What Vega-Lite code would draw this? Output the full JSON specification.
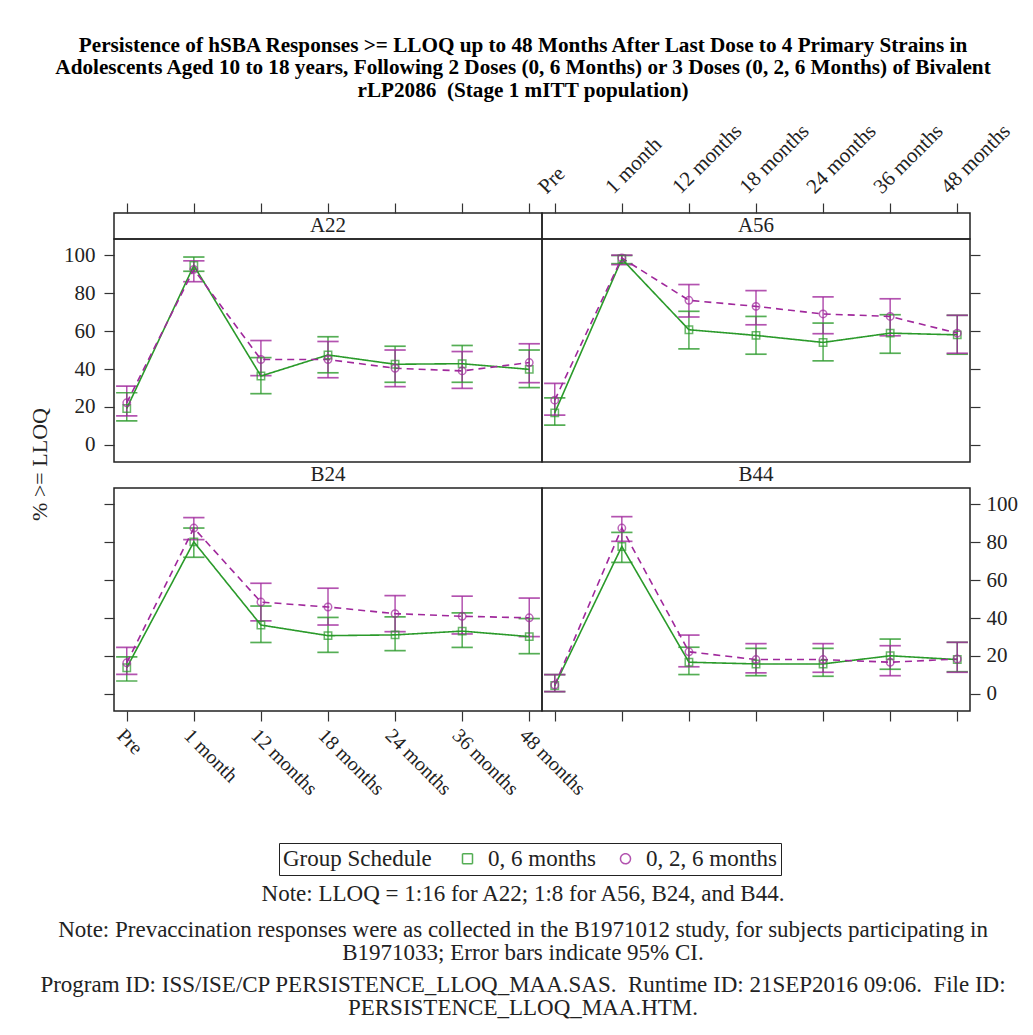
{
  "$schema": "https://vega.github.io/schema/vega-lite/v6.json",
  "padding": {"left": 27, "top": 34, "right": 10, "bottom": 5},
  "background": "white",
  "title": {
    "text": ["Persistence of hSBA Responses >= LLOQ up to 48 Months After Last Dose to 4 Primary Strains in", "Adolescents Aged 10 to 18 years, Following 2 Doses (0, 6 Months) or 3 Doses (0, 2, 6 Months) of Bivalent", "rLP2086 \u00a0(Stage 1 mITT population)"],
    "font": "Liberation Serif", "fontSize": 21.2, "fontWeight": "bold", "lineHeight": 22.5,
    "anchor": "middle", "offset": 18, "color": "black"
  },
  "config": {
    "font": "Liberation Serif",
    "view": {"stroke": "#222", "strokeWidth": 1.5},
    "axis": {"labelFont": "Liberation Serif", "titleFont": "Liberation Serif", "labelColor": "#222", "titleColor": "#222", "tickColor": "#333", "tickSize": 10, "tickWidth": 1.2, "domain": false, "grid": false, "labelPadding": 5, "titleFontWeight": "normal", "labelFontSize": 21},
    "legend": {"direction": "horizontal", "titleOrient": "left", "strokeColor": "#222", "padding": 4, "titleFont": "Liberation Serif", "titleFontSize": 23, "titleFontWeight": "normal", "titleColor": "#222", "labelFont": "Liberation Serif", "labelFontSize": 23, "labelColor": "#222", "symbolSize": 100, "symbolStrokeWidth": 1.5, "symbolDash": [1, 0], "titlePadding": 24, "columnPadding": 18, "labelOffset": 9}
  },
  "datasets": {
    "s": [{"strain": "A22"}, {"strain": "A56"}, {"strain": "B24"}, {"strain": "B44"}],
    "d": [
      {"strain": "A22", "group": "0, 6 months", "time": "Pre", "pct": 19.2, "lo": 12.7, "hi": 27.5},
      {"strain": "A22", "group": "0, 6 months", "time": "1 month", "pct": 94.5, "lo": 91.5, "hi": 99},
      {"strain": "A22", "group": "0, 6 months", "time": "12 months", "pct": 36.3, "lo": 27, "hi": 46},
      {"strain": "A22", "group": "0, 6 months", "time": "18 months", "pct": 47.4, "lo": 38, "hi": 57},
      {"strain": "A22", "group": "0, 6 months", "time": "24 months", "pct": 42.5, "lo": 33, "hi": 52},
      {"strain": "A22", "group": "0, 6 months", "time": "36 months", "pct": 42.8, "lo": 33, "hi": 52.4},
      {"strain": "A22", "group": "0, 6 months", "time": "48 months", "pct": 39.8, "lo": 30.2, "hi": 50},
      {"strain": "A22", "group": "0, 2, 6 months", "time": "Pre", "pct": 22.2, "lo": 15.3, "hi": 31},
      {"strain": "A22", "group": "0, 2, 6 months", "time": "1 month", "pct": 92.5, "lo": 86, "hi": 97},
      {"strain": "A22", "group": "0, 2, 6 months", "time": "12 months", "pct": 45, "lo": 36.5, "hi": 55},
      {"strain": "A22", "group": "0, 2, 6 months", "time": "18 months", "pct": 45, "lo": 35.4, "hi": 54.5},
      {"strain": "A22", "group": "0, 2, 6 months", "time": "24 months", "pct": 40.4, "lo": 30.7, "hi": 50},
      {"strain": "A22", "group": "0, 2, 6 months", "time": "36 months", "pct": 39, "lo": 29.8, "hi": 49.2},
      {"strain": "A22", "group": "0, 2, 6 months", "time": "48 months", "pct": 43.4, "lo": 32.8, "hi": 53.3},
      {"strain": "A56", "group": "0, 6 months", "time": "Pre", "pct": 16.9, "lo": 10.4, "hi": 24.8},
      {"strain": "A56", "group": "0, 6 months", "time": "1 month", "pct": 98, "lo": 95.5, "hi": 99.8},
      {"strain": "A56", "group": "0, 6 months", "time": "12 months", "pct": 60.7, "lo": 50.6, "hi": 70.4},
      {"strain": "A56", "group": "0, 6 months", "time": "18 months", "pct": 57.7, "lo": 47.8, "hi": 67.7},
      {"strain": "A56", "group": "0, 6 months", "time": "24 months", "pct": 54, "lo": 44.3, "hi": 64.2},
      {"strain": "A56", "group": "0, 6 months", "time": "36 months", "pct": 58.9, "lo": 48.3, "hi": 68.6},
      {"strain": "A56", "group": "0, 6 months", "time": "48 months", "pct": 58, "lo": 47.8, "hi": 68.3},
      {"strain": "A56", "group": "0, 2, 6 months", "time": "Pre", "pct": 23.6, "lo": 15.7, "hi": 32.4},
      {"strain": "A56", "group": "0, 2, 6 months", "time": "1 month", "pct": 98.5, "lo": 95, "hi": 100},
      {"strain": "A56", "group": "0, 2, 6 months", "time": "12 months", "pct": 76.2, "lo": 67.4, "hi": 84.5},
      {"strain": "A56", "group": "0, 2, 6 months", "time": "18 months", "pct": 73, "lo": 63.3, "hi": 81.3},
      {"strain": "A56", "group": "0, 2, 6 months", "time": "24 months", "pct": 69, "lo": 58.6, "hi": 78},
      {"strain": "A56", "group": "0, 2, 6 months", "time": "36 months", "pct": 67.7, "lo": 57.5, "hi": 77},
      {"strain": "A56", "group": "0, 2, 6 months", "time": "48 months", "pct": 58.9, "lo": 48.3, "hi": 68.3},
      {"strain": "B24", "group": "0, 6 months", "time": "Pre", "pct": 13.8, "lo": 6.8, "hi": 19.5},
      {"strain": "B24", "group": "0, 6 months", "time": "1 month", "pct": 80.1, "lo": 72, "hi": 87.4},
      {"strain": "B24", "group": "0, 6 months", "time": "12 months", "pct": 36.3, "lo": 27.1, "hi": 46.3},
      {"strain": "B24", "group": "0, 6 months", "time": "18 months", "pct": 30.7, "lo": 21.9, "hi": 40.3},
      {"strain": "B24", "group": "0, 6 months", "time": "24 months", "pct": 31.1, "lo": 22.8, "hi": 40.6},
      {"strain": "B24", "group": "0, 6 months", "time": "36 months", "pct": 33.1, "lo": 24.5, "hi": 42.7},
      {"strain": "B24", "group": "0, 6 months", "time": "48 months", "pct": 30.2, "lo": 21.2, "hi": 39.7},
      {"strain": "B24", "group": "0, 2, 6 months", "time": "Pre", "pct": 16.4, "lo": 10.3, "hi": 24.5},
      {"strain": "B24", "group": "0, 2, 6 months", "time": "1 month", "pct": 87.4, "lo": 81.3, "hi": 92.9},
      {"strain": "B24", "group": "0, 2, 6 months", "time": "12 months", "pct": 48.4, "lo": 38.5, "hi": 58.3},
      {"strain": "B24", "group": "0, 2, 6 months", "time": "18 months", "pct": 45.8, "lo": 36.3, "hi": 55.7},
      {"strain": "B24", "group": "0, 2, 6 months", "time": "24 months", "pct": 42.3, "lo": 32.8, "hi": 51.8},
      {"strain": "B24", "group": "0, 2, 6 months", "time": "36 months", "pct": 40.9, "lo": 31.6, "hi": 51.5},
      {"strain": "B24", "group": "0, 2, 6 months", "time": "48 months", "pct": 40.1, "lo": 30.2, "hi": 50.5},
      {"strain": "B44", "group": "0, 6 months", "time": "Pre", "pct": 4.4, "lo": 1.2, "hi": 10.2},
      {"strain": "B44", "group": "0, 6 months", "time": "1 month", "pct": 77.7, "lo": 69.3, "hi": 85.1},
      {"strain": "B44", "group": "0, 6 months", "time": "12 months", "pct": 16.7, "lo": 10.2, "hi": 24.6},
      {"strain": "B44", "group": "0, 6 months", "time": "18 months", "pct": 15.8, "lo": 9.6, "hi": 24},
      {"strain": "B44", "group": "0, 6 months", "time": "24 months", "pct": 15.8, "lo": 9.3, "hi": 24},
      {"strain": "B44", "group": "0, 6 months", "time": "36 months", "pct": 20.1, "lo": 13, "hi": 28.9},
      {"strain": "B44", "group": "0, 6 months", "time": "48 months", "pct": 18.1, "lo": 11.7, "hi": 27.2},
      {"strain": "B44", "group": "0, 2, 6 months", "time": "Pre", "pct": 4.7, "lo": 1.2, "hi": 10.2},
      {"strain": "B44", "group": "0, 2, 6 months", "time": "1 month", "pct": 87.4, "lo": 80.4, "hi": 93.4},
      {"strain": "B44", "group": "0, 2, 6 months", "time": "12 months", "pct": 22.2, "lo": 14.3, "hi": 31},
      {"strain": "B44", "group": "0, 2, 6 months", "time": "18 months", "pct": 18.1, "lo": 11.1, "hi": 26.5},
      {"strain": "B44", "group": "0, 2, 6 months", "time": "24 months", "pct": 18.1, "lo": 11.4, "hi": 26.5},
      {"strain": "B44", "group": "0, 2, 6 months", "time": "36 months", "pct": 16.7, "lo": 9.6, "hi": 25.4},
      {"strain": "B44", "group": "0, 2, 6 months", "time": "48 months", "pct": 18.4, "lo": 11.4, "hi": 27.2}
    ]
  },
  "resolve": {"scale": {"color": "independent", "shape": "independent"}},
  "spacing": 6,
  "vconcat": [
    {
      "columns": 2, "spacing": 0, "bounds": "flush", "align": "each",
      "concat": [
        {
          "width": 428, "height": 26,
          "layer": [
            {"data": {"name": "d"}, "transform": [{"filter": "datum.strain === 'A22'"}], "mark": {"type": "point", "opacity": 0},
             "encoding": {"x": {"field": "time", "type": "ordinal", "scale": {"type": "point", "domain": ["Pre", "1 month", "12 months", "18 months", "24 months", "36 months", "48 months"], "padding": 0.19}, "axis": {"orient": "top", "labels": false, "title": null}}}},
            {"data": {"name": "s"}, "transform": [{"filter": "datum.strain === 'A22'"}], "mark": {"type": "text", "font": "Liberation Serif", "fontSize": 21, "color": "#222"}, "encoding": {"text": {"field": "strain"}}}
          ]
        },
        {
          "width": 428, "height": 26,
          "layer": [
            {"data": {"name": "d"}, "transform": [{"filter": "datum.strain === 'A56'"}], "mark": {"type": "point", "opacity": 0},
             "encoding": {"x": {"field": "time", "type": "ordinal", "scale": {"type": "point", "domain": ["Pre", "1 month", "12 months", "18 months", "24 months", "36 months", "48 months"], "padding": 0.19}, "axis": {"orient": "top", "labels": true, "title": null, "labelAngle": -45, "labelAlign": "left", "labelBaseline": "bottom", "labelOffset": -6, "labelPadding": 6, "labelFontSize": 21}}}},
            {"data": {"name": "s"}, "transform": [{"filter": "datum.strain === 'A56'"}], "mark": {"type": "text", "font": "Liberation Serif", "fontSize": 21, "color": "#222"}, "encoding": {"text": {"field": "strain"}}}
          ]
        },
        {
          "width": 428, "height": 223,
          "data": {"name": "d"}, "transform": [{"filter": "datum.strain === 'A22'"}],
          "encoding": {
            "x": {"field": "time", "type": "ordinal", "scale": {"type": "point", "domain": ["Pre", "1 month", "12 months", "18 months", "24 months", "36 months", "48 months"], "padding": 0.19}, "axis": null},
            "color": {"field": "group", "type": "nominal", "scale": {"domain": ["0, 6 months", "0, 2, 6 months"], "range": ["#2a9a2a", "#a0289c"]}, "legend": {"title": "Group Schedule", "orient": "none", "legendX": 165, "legendY": 630}}
          },
          "layer": [
            {"mark": {"type": "rule", "strokeWidth": 1.5, "opacity": 0.8}, "encoding": {"y": {"field": "lo", "type": "quantitative", "scale": {"domain": [-9, 108.5], "nice": false, "zero": false}, "axis": {"orient": "left", "values": [0, 20, 40, 60, 80, 100], "labelPadding": 9, "title": "% >= LLOQ", "titleFontSize": 22, "titleX": -74.5, "titleY": 225, "titleAlign": "center", "titleBaseline": "middle", "titleAngle": -90}}, "y2": {"field": "hi"}}},
            {"mark": {"type": "tick", "size": 20, "thickness": 0.4, "filled": false, "strokeWidth": 1.3, "opacity": 0.8}, "encoding": {"y": {"field": "lo", "type": "quantitative", "scale": {"domain": [-9, 108.5], "nice": false, "zero": false}, "axis": {"orient": "left", "values": [0, 20, 40, 60, 80, 100], "labelPadding": 9, "title": "% >= LLOQ", "titleFontSize": 22, "titleX": -74.5, "titleY": 225, "titleAlign": "center", "titleBaseline": "middle", "titleAngle": -90}}}},
            {"mark": {"type": "tick", "size": 20, "thickness": 0.4, "filled": false, "strokeWidth": 1.3, "opacity": 0.8}, "encoding": {"y": {"field": "hi", "type": "quantitative", "scale": {"domain": [-9, 108.5], "nice": false, "zero": false}, "axis": {"orient": "left", "values": [0, 20, 40, 60, 80, 100], "labelPadding": 9, "title": "% >= LLOQ", "titleFontSize": 22, "titleX": -74.5, "titleY": 225, "titleAlign": "center", "titleBaseline": "middle", "titleAngle": -90}}}},
            {"mark": {"type": "line", "strokeWidth": 1.6}, "encoding": {"y": {"field": "pct", "type": "quantitative", "scale": {"domain": [-9, 108.5], "nice": false, "zero": false}, "axis": {"orient": "left", "values": [0, 20, 40, 60, 80, 100], "labelPadding": 9, "title": "% >= LLOQ", "titleFontSize": 22, "titleX": -74.5, "titleY": 225, "titleAlign": "center", "titleBaseline": "middle", "titleAngle": -90}}, "strokeDash": {"condition": {"test": "datum.group === '0, 2, 6 months'", "value": [7, 5]}, "value": [1, 0]}}},
            {"mark": {"type": "point", "filled": false, "size": 55, "strokeWidth": 1.5}, "encoding": {"y": {"field": "pct", "type": "quantitative", "scale": {"domain": [-9, 108.5], "nice": false, "zero": false}, "axis": {"orient": "left", "values": [0, 20, 40, 60, 80, 100], "labelPadding": 9, "title": "% >= LLOQ", "titleFontSize": 22, "titleX": -74.5, "titleY": 225, "titleAlign": "center", "titleBaseline": "middle", "titleAngle": -90}},
              "shape": {"field": "group", "type": "nominal", "scale": {"domain": ["0, 6 months", "0, 2, 6 months"], "range": ["square", "circle"]}, "legend": {"title": "Group Schedule", "orient": "none", "legendX": 165, "legendY": 630}}}}
          ]
        },
        {
          "width": 428, "height": 223,
          "data": {"name": "d"}, "transform": [{"filter": "datum.strain === 'A56'"}],
          "encoding": {
            "x": {"field": "time", "type": "ordinal", "scale": {"type": "point", "domain": ["Pre", "1 month", "12 months", "18 months", "24 months", "36 months", "48 months"], "padding": 0.19}, "axis": null},
            "color": {"field": "group", "type": "nominal", "scale": {"domain": ["0, 6 months", "0, 2, 6 months"], "range": ["#2a9a2a", "#a0289c"]}, "legend": {"title": "Group Schedule", "orient": "none", "legendX": 165, "legendY": 630}}
          },
          "layer": [
            {"mark": {"type": "rule", "strokeWidth": 1.5, "opacity": 0.8}, "encoding": {"y": {"field": "lo", "type": "quantitative", "scale": {"domain": [-9, 108.5], "nice": false, "zero": false}, "axis": {"orient": "right", "values": [0, 20, 40, 60, 80, 100], "labels": false, "title": null}}, "y2": {"field": "hi"}}},
            {"mark": {"type": "tick", "size": 20, "thickness": 0.4, "filled": false, "strokeWidth": 1.3, "opacity": 0.8}, "encoding": {"y": {"field": "lo", "type": "quantitative", "scale": {"domain": [-9, 108.5], "nice": false, "zero": false}, "axis": {"orient": "right", "values": [0, 20, 40, 60, 80, 100], "labels": false, "title": null}}}},
            {"mark": {"type": "tick", "size": 20, "thickness": 0.4, "filled": false, "strokeWidth": 1.3, "opacity": 0.8}, "encoding": {"y": {"field": "hi", "type": "quantitative", "scale": {"domain": [-9, 108.5], "nice": false, "zero": false}, "axis": {"orient": "right", "values": [0, 20, 40, 60, 80, 100], "labels": false, "title": null}}}},
            {"mark": {"type": "line", "strokeWidth": 1.6}, "encoding": {"y": {"field": "pct", "type": "quantitative", "scale": {"domain": [-9, 108.5], "nice": false, "zero": false}, "axis": {"orient": "right", "values": [0, 20, 40, 60, 80, 100], "labels": false, "title": null}}, "strokeDash": {"condition": {"test": "datum.group === '0, 2, 6 months'", "value": [7, 5]}, "value": [1, 0]}}},
            {"mark": {"type": "point", "filled": false, "size": 55, "strokeWidth": 1.5}, "encoding": {"y": {"field": "pct", "type": "quantitative", "scale": {"domain": [-9, 108.5], "nice": false, "zero": false}, "axis": {"orient": "right", "values": [0, 20, 40, 60, 80, 100], "labels": false, "title": null}},
              "shape": {"field": "group", "type": "nominal", "scale": {"domain": ["0, 6 months", "0, 2, 6 months"], "range": ["square", "circle"]}, "legend": {"title": "Group Schedule", "orient": "none", "legendX": 165, "legendY": 630}}}}
          ]
        },
        {
          "width": 428, "height": 26,
          "data": {"name": "s"}, "transform": [{"filter": "datum.strain === 'B24'"}],
          "mark": {"type": "text", "font": "Liberation Serif", "fontSize": 21, "color": "#222"}, "encoding": {"text": {"field": "strain"}}
        },
        {
          "width": 428, "height": 26,
          "data": {"name": "s"}, "transform": [{"filter": "datum.strain === 'B44'"}],
          "mark": {"type": "text", "font": "Liberation Serif", "fontSize": 21, "color": "#222"}, "encoding": {"text": {"field": "strain"}}
        },
        {
          "width": 428, "height": 223,
          "data": {"name": "d"}, "transform": [{"filter": "datum.strain === 'B24'"}],
          "encoding": {
            "x": {"field": "time", "type": "ordinal", "scale": {"type": "point", "domain": ["Pre", "1 month", "12 months", "18 months", "24 months", "36 months", "48 months"], "padding": 0.19}, "axis": {"orient": "bottom", "title": null, "labelAngle": 45, "labelAlign": "left", "labelBaseline": "top", "labelPadding": 4, "labelFontSize": 20}},
            "color": {"field": "group", "type": "nominal", "scale": {"domain": ["0, 6 months", "0, 2, 6 months"], "range": ["#2a9a2a", "#a0289c"]}, "legend": {"title": "Group Schedule", "orient": "none", "legendX": 165, "legendY": 630}}
          },
          "layer": [
            {"mark": {"type": "rule", "strokeWidth": 1.5, "opacity": 0.8}, "encoding": {"y": {"field": "lo", "type": "quantitative", "scale": {"domain": [-9, 108.5], "nice": false, "zero": false}, "axis": {"orient": "left", "values": [0, 20, 40, 60, 80, 100], "labels": false, "title": null}}, "y2": {"field": "hi"}}},
            {"mark": {"type": "tick", "size": 20, "thickness": 0.4, "filled": false, "strokeWidth": 1.3, "opacity": 0.8}, "encoding": {"y": {"field": "lo", "type": "quantitative", "scale": {"domain": [-9, 108.5], "nice": false, "zero": false}, "axis": {"orient": "left", "values": [0, 20, 40, 60, 80, 100], "labels": false, "title": null}}}},
            {"mark": {"type": "tick", "size": 20, "thickness": 0.4, "filled": false, "strokeWidth": 1.3, "opacity": 0.8}, "encoding": {"y": {"field": "hi", "type": "quantitative", "scale": {"domain": [-9, 108.5], "nice": false, "zero": false}, "axis": {"orient": "left", "values": [0, 20, 40, 60, 80, 100], "labels": false, "title": null}}}},
            {"mark": {"type": "line", "strokeWidth": 1.6}, "encoding": {"y": {"field": "pct", "type": "quantitative", "scale": {"domain": [-9, 108.5], "nice": false, "zero": false}, "axis": {"orient": "left", "values": [0, 20, 40, 60, 80, 100], "labels": false, "title": null}}, "strokeDash": {"condition": {"test": "datum.group === '0, 2, 6 months'", "value": [7, 5]}, "value": [1, 0]}}},
            {"mark": {"type": "point", "filled": false, "size": 55, "strokeWidth": 1.5}, "encoding": {"y": {"field": "pct", "type": "quantitative", "scale": {"domain": [-9, 108.5], "nice": false, "zero": false}, "axis": {"orient": "left", "values": [0, 20, 40, 60, 80, 100], "labels": false, "title": null}},
              "shape": {"field": "group", "type": "nominal", "scale": {"domain": ["0, 6 months", "0, 2, 6 months"], "range": ["square", "circle"]}, "legend": {"title": "Group Schedule", "orient": "none", "legendX": 165, "legendY": 630}}}}
          ]
        },
        {
          "width": 428, "height": 223,
          "data": {"name": "d"}, "transform": [{"filter": "datum.strain === 'B44'"}],
          "encoding": {
            "x": {"field": "time", "type": "ordinal", "scale": {"type": "point", "domain": ["Pre", "1 month", "12 months", "18 months", "24 months", "36 months", "48 months"], "padding": 0.19}, "axis": {"orient": "bottom", "title": null, "labels": false}},
            "color": {"field": "group", "type": "nominal", "scale": {"domain": ["0, 6 months", "0, 2, 6 months"], "range": ["#2a9a2a", "#a0289c"]}, "legend": {"title": "Group Schedule", "orient": "none", "legendX": 165, "legendY": 630}}
          },
          "layer": [
            {"mark": {"type": "rule", "strokeWidth": 1.5, "opacity": 0.8}, "encoding": {"y": {"field": "lo", "type": "quantitative", "scale": {"domain": [-9, 108.5], "nice": false, "zero": false}, "axis": {"orient": "right", "values": [0, 20, 40, 60, 80, 100], "labelPadding": 6, "title": null}}, "y2": {"field": "hi"}}},
            {"mark": {"type": "tick", "size": 20, "thickness": 0.4, "filled": false, "strokeWidth": 1.3, "opacity": 0.8}, "encoding": {"y": {"field": "lo", "type": "quantitative", "scale": {"domain": [-9, 108.5], "nice": false, "zero": false}, "axis": {"orient": "right", "values": [0, 20, 40, 60, 80, 100], "labelPadding": 6, "title": null}}}},
            {"mark": {"type": "tick", "size": 20, "thickness": 0.4, "filled": false, "strokeWidth": 1.3, "opacity": 0.8}, "encoding": {"y": {"field": "hi", "type": "quantitative", "scale": {"domain": [-9, 108.5], "nice": false, "zero": false}, "axis": {"orient": "right", "values": [0, 20, 40, 60, 80, 100], "labelPadding": 6, "title": null}}}},
            {"mark": {"type": "line", "strokeWidth": 1.6}, "encoding": {"y": {"field": "pct", "type": "quantitative", "scale": {"domain": [-9, 108.5], "nice": false, "zero": false}, "axis": {"orient": "right", "values": [0, 20, 40, 60, 80, 100], "labelPadding": 6, "title": null}}, "strokeDash": {"condition": {"test": "datum.group === '0, 2, 6 months'", "value": [7, 5]}, "value": [1, 0]}}},
            {"mark": {"type": "point", "filled": false, "size": 55, "strokeWidth": 1.5}, "encoding": {"y": {"field": "pct", "type": "quantitative", "scale": {"domain": [-9, 108.5], "nice": false, "zero": false}, "axis": {"orient": "right", "values": [0, 20, 40, 60, 80, 100], "labelPadding": 6, "title": null}},
              "shape": {"field": "group", "type": "nominal", "scale": {"domain": ["0, 6 months", "0, 2, 6 months"], "range": ["square", "circle"]}, "legend": {"title": "Group Schedule", "orient": "none", "legendX": 165, "legendY": 630}}}}
          ]
        }
      ]
    },
    {
      "spacing": 2,
      "vconcat": [
        {
          "width": 818, "height": 1, "view": {"stroke": null},
          "data": {"values": [{}]}, "mark": {"type": "text"}, "encoding": {"text": {"value": ""}},
          "title": {"text": "Note: LLOQ = 1:16 for A22; 1:8 for A56, B24, and B44.", "font": "Liberation Serif", "fontSize": 23, "fontWeight": "normal", "anchor": "middle", "offset": 0, "lineHeight": 22.5, "color": "#222"}
        },
        {
          "spacing": -2,
          "vconcat": [
            {
              "width": 818, "height": 1, "view": {"stroke": null},
              "data": {"values": [{}]}, "mark": {"type": "text"}, "encoding": {"text": {"value": ""}},
              "title": {"text": ["Note: Prevaccination responses were as collected in the B1971012 study, for subjects participating in", "B1971033; Error bars indicate 95% CI."], "font": "Liberation Serif", "fontSize": 23, "fontWeight": "normal", "anchor": "middle", "offset": 0, "lineHeight": 22.5, "color": "#222"}
            },
            {
              "width": 818, "height": 1, "view": {"stroke": null},
              "data": {"values": [{}]}, "mark": {"type": "text"}, "encoding": {"text": {"value": ""}},
              "title": {"text": ["Program ID: ISS/ISE/CP PERSISTENCE_LLOQ_MAA.SAS.\u00a0 Runtime ID: 21SEP2016 09:06.\u00a0 File ID:", "PERSISTENCE_LLOQ_MAA.HTM."], "font": "Liberation Serif", "fontSize": 23, "fontWeight": "normal", "anchor": "middle", "offset": 0, "lineHeight": 22.5, "color": "#222"}
            }
          ]
        }
      ]
    }
  ]
}
